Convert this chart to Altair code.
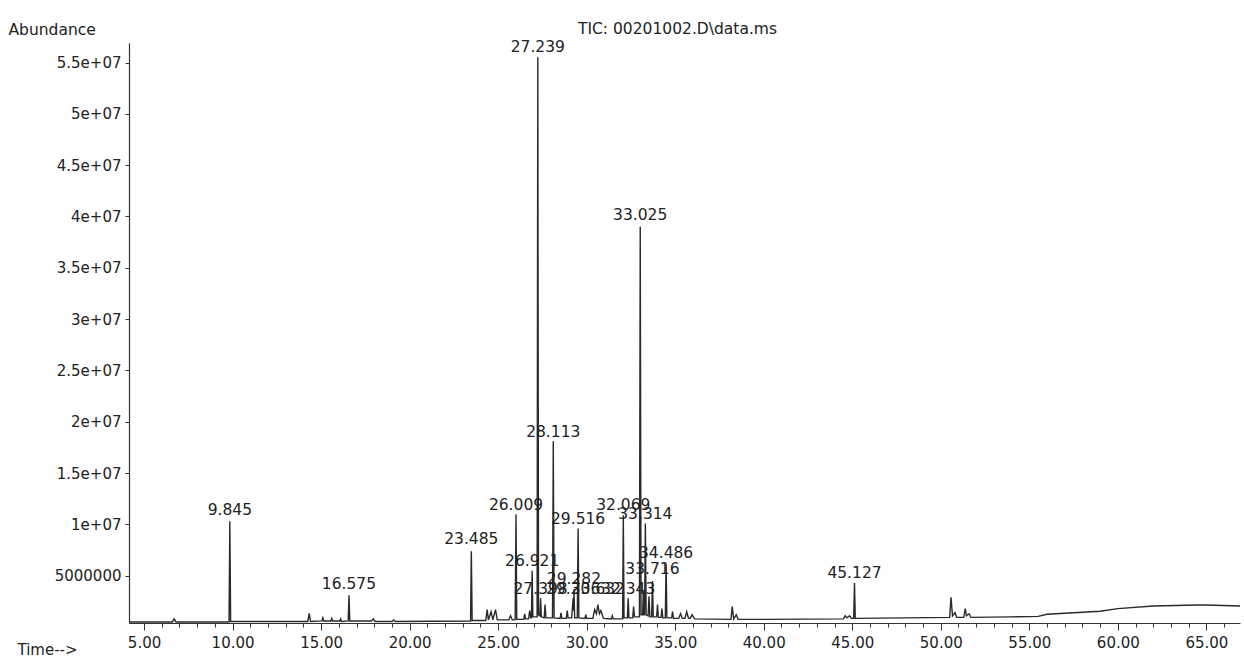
import altair as alt
import pandas as pd

# ---- trace of the TIC chromatogram: (retention time [min], abundance) ----
TRACE_POINTS = [
    (4.15, 0.50e6),
    (6.60, 0.50e6), (6.70, 0.80e6), (6.80, 0.50e6),
    (9.80, 0.50e6), (9.845, 10.3e6), (9.89, 0.55e6),
    (14.25, 0.55e6), (14.33, 1.35e6), (14.40, 0.55e6),
    (15.05, 0.60e6), (15.10, 0.90e6), (15.15, 0.60e6),
    (15.55, 0.60e6), (15.60, 0.85e6), (15.65, 0.60e6),
    (16.05, 0.60e6), (16.10, 0.80e6), (16.15, 0.55e6),
    (16.53, 0.60e6), (16.575, 3.1e6), (16.62, 0.60e6),
    (17.85, 0.60e6), (17.95, 0.80e6), (18.05, 0.55e6),
    (19.00, 0.55e6), (19.10, 0.70e6), (19.20, 0.55e6),
    (23.44, 0.60e6), (23.485, 7.4e6), (23.53, 0.65e6),
    (24.30, 0.65e6), (24.38, 1.70e6), (24.45, 0.70e6), (24.60, 1.50e6),
    (24.70, 0.70e6), (24.85, 1.70e6), (24.95, 0.70e6),
    (25.60, 0.70e6), (25.70, 1.10e6), (25.80, 0.70e6),
    (25.96, 0.70e6), (26.009, 11.0e6), (26.05, 0.75e6),
    (26.45, 0.75e6), (26.50, 1.30e6), (26.55, 0.80e6),
    (26.72, 0.80e6), (26.78, 1.60e6), (26.84, 0.90e6),
    (26.88, 0.90e6), (26.921, 5.5e6), (26.96, 1.00e6),
    (27.20, 1.00e6), (27.239, 55.5e6), (27.28, 1.20e6),
    (27.36, 1.10e6), (27.398, 2.8e6), (27.44, 1.00e6),
    (27.60, 0.90e6), (27.65, 2.20e6), (27.70, 0.90e6),
    (28.07, 0.90e6), (28.113, 18.1e6), (28.16, 0.90e6),
    (28.50, 0.85e6), (28.55, 1.40e6), (28.60, 0.85e6),
    (28.85, 0.85e6), (28.90, 1.60e6), (28.95, 0.90e6),
    (29.15, 0.90e6), (29.236, 2.8e6), (29.26, 1.60e6), (29.282, 3.7e6), (29.32, 0.90e6),
    (29.47, 0.90e6), (29.516, 9.6e6), (29.56, 0.90e6),
    (29.90, 0.85e6), (29.95, 1.20e6), (30.00, 0.85e6),
    (30.35, 0.85e6), (30.45, 1.70e6), (30.55, 1.30e6), (30.632, 2.2e6),
    (30.72, 1.30e6), (30.80, 1.60e6), (30.95, 0.85e6),
    (31.40, 0.80e6), (31.45, 1.10e6), (31.50, 0.80e6),
    (32.03, 0.80e6), (32.069, 10.9e6), (32.11, 0.90e6),
    (32.30, 0.90e6), (32.343, 2.8e6), (32.39, 0.90e6),
    (32.60, 0.90e6), (32.65, 2.00e6), (32.70, 1.00e6),
    (32.98, 1.00e6), (33.025, 39.0e6), (33.07, 1.20e6),
    (33.16, 1.20e6), (33.20, 3.50e6), (33.24, 1.20e6),
    (33.27, 1.20e6), (33.314, 10.1e6), (33.36, 1.20e6),
    (33.47, 1.10e6), (33.52, 3.00e6), (33.57, 1.00e6),
    (33.67, 1.00e6), (33.716, 4.5e6), (33.76, 1.00e6),
    (33.95, 1.00e6), (34.00, 2.20e6), (34.05, 0.95e6),
    (34.20, 0.95e6), (34.25, 1.80e6), (34.30, 0.90e6),
    (34.44, 0.90e6), (34.486, 6.2e6), (34.53, 0.90e6),
    (34.80, 0.90e6), (34.85, 1.50e6), (34.90, 0.85e6),
    (35.20, 0.85e6), (35.30, 1.30e6), (35.40, 0.85e6),
    (35.55, 0.85e6), (35.65, 1.50e6), (35.75, 0.85e6),
    (35.85, 0.85e6), (35.95, 1.20e6), (36.10, 0.80e6),
    (38.15, 0.75e6), (38.22, 2.00e6), (38.30, 0.80e6), (38.45, 1.20e6), (38.55, 0.75e6),
    (40.00, 0.75e6),
    (44.50, 0.80e6), (44.60, 1.10e6), (44.70, 0.90e6), (44.85, 1.10e6), (44.95, 0.85e6),
    (45.08, 0.85e6), (45.127, 4.3e6), (45.17, 0.85e6),
    (48.00, 0.90e6),
    (50.50, 0.95e6), (50.58, 2.90e6), (50.66, 1.10e6), (50.80, 1.40e6), (50.90, 0.95e6),
    (51.30, 0.95e6), (51.38, 1.80e6), (51.45, 1.10e6), (51.60, 1.30e6), (51.70, 0.95e6),
    (54.00, 1.00e6), (55.50, 1.05e6), (56.00, 1.25e6), (59.00, 1.55e6),
    (60.00, 1.80e6), (62.00, 2.05e6), (64.50, 2.15e6), (65.00, 2.15e6), (66.90, 2.05e6),
]

# ---- peak annotations (label, time, abundance at which the label sits) ----
PEAK_LABELS = ["9.845", "16.575", "23.485", "26.009", "26.921", "27.239", "27.398",
               "28.113", "29.236", "29.282", "29.516", "30.632", "32.069", "32.343",
               "33.025", "33.314", "33.716", "34.486", "45.127"]
PEAK_TIMES = [9.845, 16.575, 23.485, 26.009, 26.921, 27.239, 27.398,
              28.113, 29.236, 29.282, 29.516, 30.632, 32.069, 32.343,
              33.025, 33.314, 33.716, 34.486, 45.127]
PEAK_LABEL_ABUND = [10.5e6, 3.3e6, 7.7e6, 11.05e6, 5.6e6, 55.6e6, 2.85e6,
                    18.1e6, 2.85e6, 3.8e6, 9.7e6, 2.85e6, 11.05e6, 2.85e6,
                    39.3e6, 10.1e6, 4.8e6, 6.3e6, 4.35e6]

X_TICKS = list(range(5, 67))
Y_TICKS = [5e6, 1e7, 1.5e7, 2e7, 2.5e7, 3e7, 3.5e7, 4e7, 4.5e7, 5e7, 5.5e7]

X_DOMAIN = [4.15, 66.9]
Y_DOMAIN = [0.4e6, 56.9e6]

FONT = "DejaVu Sans"
INK = "#222222"

trace = pd.DataFrame(TRACE_POINTS, columns=["time", "abundance"])
labels = pd.DataFrame({"label": PEAK_LABELS, "time": PEAK_TIMES, "abundance": PEAK_LABEL_ABUND})

x_enc = alt.X(
    "time:Q",
    scale=alt.Scale(domain=X_DOMAIN, nice=False, zero=False),
    axis=alt.Axis(
        title="Time-->",
        titleX=-112, titleY=31, titleAlign="left", titleBaseline="alphabetic",
        titleFont=FONT, titleFontSize=15, titleFontWeight="normal", titleColor=INK,
        values=X_TICKS, tickCount=200,
        labelExpr="datum.value % 5 === 0 ? format(datum.value, '.2f') : ''",
        labelOverlap=False, labelFlush=False,
        labelFont=FONT, labelFontSize=15, labelColor=INK, labelPadding=5,
        tickSize={"condition": {"test": "datum.value % 5 === 0", "value": 7}, "value": 4},
        tickColor="#333333", tickWidth=1,
        domainColor="#333333", domainWidth=1.2, grid=False,
    ),
)
y_enc = alt.Y(
    "abundance:Q",
    scale=alt.Scale(domain=Y_DOMAIN, nice=False, zero=False),
    axis=alt.Axis(
        title="Abundance",
        titleAngle=0, titleX=-121, titleY=-14, titleAlign="left", titleBaseline="middle",
        titleFont=FONT, titleFontSize=15.5, titleFontWeight="normal", titleColor=INK,
        values=Y_TICKS, tickCount=50,
        labelExpr="datum.value < 9e6 ? '5000000' : replace(format(datum.value, '.2~e'), 'e+', 'e+0')",
        labelOverlap=False, labelFlush=False,
        labelFont=FONT, labelFontSize=15, labelColor=INK, labelPadding=4,
        tickSize=4, tickColor="#333333",
        domainColor="#333333", domainWidth=1.2, grid=False,
    ),
)

line = alt.Chart(trace).mark_line(color="#2a2a2a", strokeWidth=1.4, interpolate="linear").encode(
    x=x_enc, y=y_enc
)

text = alt.Chart(labels).mark_text(
    font=FONT, fontSize=15.5, color=INK, baseline="middle", align="center", dy=-9
).encode(x="time:Q", y="abundance:Q", text="label:N")

chart = (
    alt.layer(line, text)
    .properties(
        width=1111,
        height=580,
        autosize=alt.AutoSizeParams(type="none"),
        padding={"left": 129, "top": 43, "right": 4, "bottom": 35},
        background="#ffffff",
        title=alt.TitleParams(
            "TIC: 00201002.D\\data.ms",
            anchor="start", frame="group", dx=449, dy=24, offset=9, font=FONT, fontSize=15.5,
            fontWeight="normal", color=INK,
        ),
    )
    .configure_view(stroke=None)
)

chart.save("out.html", embed_options={"renderer": "svg", "actions": False})
